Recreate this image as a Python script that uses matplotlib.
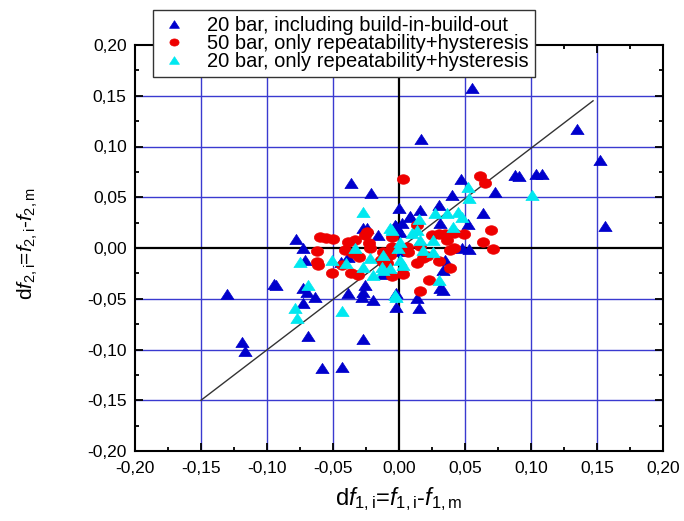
import matplotlib
matplotlib.use("Agg")
import matplotlib.pyplot as plt
import numpy as np
from matplotlib.path import Path
from matplotlib.ticker import MultipleLocator, FuncFormatter

plt.rcParams['font.family'] = ['Liberation Sans', 'DejaVu Sans']
plt.rcParams['mathtext.fontset'] = 'custom'
plt.rcParams['mathtext.rm'] = 'Liberation Sans'
plt.rcParams['mathtext.it'] = 'Liberation Sans:italic'

# --- data ---
labels = ["20 bar, including build-in-build-out",
          "50 bar, only repeatability+hysteresis",
          "20 bar, only repeatability+hysteresis"]

blue_x = [0.055, 0.017, 0.135, 0.152, 0.156, 0.088, 0.091, 0.104, 0.108, 0.047,
          0.073, 0.040, 0.064, 0.030, 0.016, 0.008, 0.000, 0.052, 0.048, 0.053,
          0.002, 0.031, 0.035, 0.033, 0.031, 0.033, 0.014, 0.015, -0.002, -0.002,
          -0.036, -0.021, -0.027, -0.024, -0.016, -0.003, -0.078, -0.073, -0.071, -0.039,
          -0.073, -0.070, -0.064, -0.073, -0.039, -0.026, -0.027, -0.020, -0.028, -0.130,
          -0.095, -0.093, -0.119, -0.117, -0.069, -0.058, -0.043, -0.027, -0.044, 0.002,
          -0.002, 0.001, -0.012, 0.008]
blue_y = [0.158, 0.107, 0.117, 0.087, 0.022, 0.072, 0.071, 0.073, 0.073, 0.068,
          0.055, 0.052, 0.034, 0.042, 0.037, 0.032, 0.039, 0.024, 0.000, -0.001,
          0.025, 0.025, -0.012, -0.022, -0.039, -0.041, -0.049, -0.059, -0.044, -0.058,
          0.064, 0.054, 0.020, 0.020, 0.013, 0.023, 0.009, 0.000, -0.012, -0.009,
          -0.039, -0.043, -0.048, -0.054, -0.044, -0.036, -0.043, -0.051, -0.048, -0.045,
          -0.035, -0.036, -0.093, -0.101, -0.087, -0.118, -0.117, -0.090, -0.014, -0.003,
          0.022, 0.016, -0.026, 0.031]

red_x = [0.003, 0.061, 0.065, 0.070, 0.064, 0.071, 0.049, 0.042, 0.035, 0.030,
         0.025, 0.036, 0.042, 0.039, 0.014, 0.007, 0.018, 0.014, 0.030, 0.039,
         -0.005, 0.003, 0.023, 0.016, -0.012, -0.011, -0.060, -0.055, -0.050, -0.039,
         -0.033, -0.026, -0.023, -0.022, -0.062, -0.062, -0.061, -0.051, -0.041, -0.030,
         -0.036, -0.031, -0.043, -0.014, -0.009, -0.005, -0.005, -0.007, 0.016, 0.021,
         -0.024, -0.035, 0.006]
red_y = [0.068, 0.071, 0.064, 0.018, 0.006, -0.001, 0.014, 0.015, 0.014, 0.014,
         0.013, 0.008, 0.000, -0.002, 0.023, -0.004, -0.010, -0.015, -0.013, -0.020,
         -0.028, -0.026, -0.032, -0.042, -0.004, -0.015, 0.011, 0.010, 0.009, 0.006,
         0.008, 0.013, 0.005, 0.000, -0.003, -0.014, -0.017, -0.025, -0.002, -0.009,
         -0.025, -0.027, -0.017, -0.012, -0.015, 0.011, 0.001, -0.007, 0.002, -0.008,
         0.016, -0.005, 0.001]

cyan_x = [0.101, 0.052, 0.053, 0.027, 0.045, 0.048, 0.036, 0.041, 0.026, 0.016,
          0.018, 0.026, 0.010, 0.014, 0.001, -0.005, 0.003, -0.013, -0.012, 0.030,
          -0.002, -0.027, -0.007, -0.051, -0.075, -0.040, -0.033, -0.022, -0.027, -0.020,
          -0.007, -0.012, -0.001, 0.001, -0.069, -0.079, -0.077, -0.043, -0.003, 0.015]
cyan_y = [0.052, 0.060, 0.049, 0.034, 0.035, 0.031, 0.034, 0.021, 0.008, 0.008,
          -0.002, -0.004, 0.015, 0.018, 0.006, 0.018, -0.017, -0.019, -0.007, -0.032,
          -0.048, 0.035, 0.020, -0.012, -0.014, -0.015, 0.000, -0.010, -0.019, -0.027,
          -0.020, -0.022, 0.000, -0.012, -0.036, -0.059, -0.069, -0.062, -0.046, 0.029]

diag_x = [-0.15, 0.147]
diag_y = [-0.15, 0.145]

ticks = [-0.20, -0.15, -0.10, -0.05, 0.00, 0.05, 0.10, 0.15, 0.20]

# wide (slightly stretched) marker shapes like the reference
tri = Path([(-0.65, -0.5), (0.65, -0.5), (0.0, 0.5), (-0.65, -0.5)],
           [Path.MOVETO, Path.LINETO, Path.LINETO, Path.CLOSEPOLY])
_t = np.linspace(0, 2*np.pi, 41)
ell = Path(np.column_stack([0.5*np.cos(_t), 0.39*np.sin(_t)]), closed=True)

# --- figure ---
fig = plt.figure(figsize=(6.84, 5.21), dpi=100)
ax = fig.add_axes([135/684, 1-451/521, 528/684, 406/521])
ax.set_xlim(-0.2, 0.2)
ax.set_ylim(-0.2, 0.2)

for t in ticks[1:-1]:
    if abs(t) < 1e-9:
        continue
    ax.axvline(t, color='#3a3ad0', lw=1.0, zorder=1)
    ax.axhline(t, color='#3a3ad0', lw=1.0, zorder=1)
ax.axvline(0, color='black', lw=1.6, zorder=1.5)
ax.axhline(0, color='black', lw=1.6, zorder=1.5)

ax.plot(diag_x, diag_y, color='#333333', lw=1.0, zorder=2)

ax.plot(blue_x, blue_y, ls='none', marker=tri, ms=9.5, color='#0000cc',
        mec='#0000cc', mew=0.5, label=labels[0], zorder=3)
ax.plot(red_x, red_y, ls='none', marker=ell, ms=8.8, color='#ee0000',
        mec='#ee0000', mew=0.5, label=labels[1], zorder=4)
ax.plot(cyan_x, cyan_y, ls='none', marker=tri, ms=9.5, color='#00e8f0',
        mec='#00e8f0', mew=0.5, label=labels[2], zorder=5)

fmt = FuncFormatter(lambda v, p: f"{v:.2f}".replace('.', ',').replace('-0,00', '0,00'))
ax.set_xticks(ticks)
ax.set_yticks(ticks)
ax.xaxis.set_major_formatter(fmt)
ax.yaxis.set_major_formatter(fmt)
ax.xaxis.set_minor_locator(MultipleLocator(0.025))
ax.yaxis.set_minor_locator(MultipleLocator(0.025))
ax.tick_params(which='both', direction='in', top=True, right=True, width=1.3,
               labelsize=12.5)
ax.tick_params(axis='x', pad=7)
ax.tick_params(axis='y', pad=6)
ax.tick_params(which='major', length=6)
ax.tick_params(which='minor', length=3)
for s in ax.spines.values():
    s.set_linewidth(1.5)

ax.set_xlabel(r'd$f_{\mathrm{1,i}}$=$f_{\mathrm{1,i}}$-$f_{\mathrm{1,m}}$', fontsize=17)
ax.xaxis.set_label_coords(0.5, -0.085)
ax.set_ylabel(r'd$f_{\mathrm{2,i}}$=$f_{\mathrm{2,i}}$-$f_{\mathrm{2,m}}$', fontsize=15)
ax.yaxis.set_label_coords(-0.18, 0.51)

leg = fig.legend(loc='upper left', bbox_to_anchor=(153/684, 1-10/521),
                 fontsize=14.5, frameon=True, fancybox=False, edgecolor='#333333',
                 framealpha=1, handlelength=1.5, handletextpad=0.9, labelspacing=-0.05,
                 borderpad=0.3, borderaxespad=0, markerscale=0.75)
leg.get_frame().set_linewidth(1.0)
leg.set_zorder(10)

fig.savefig('out.png', dpi=100)
